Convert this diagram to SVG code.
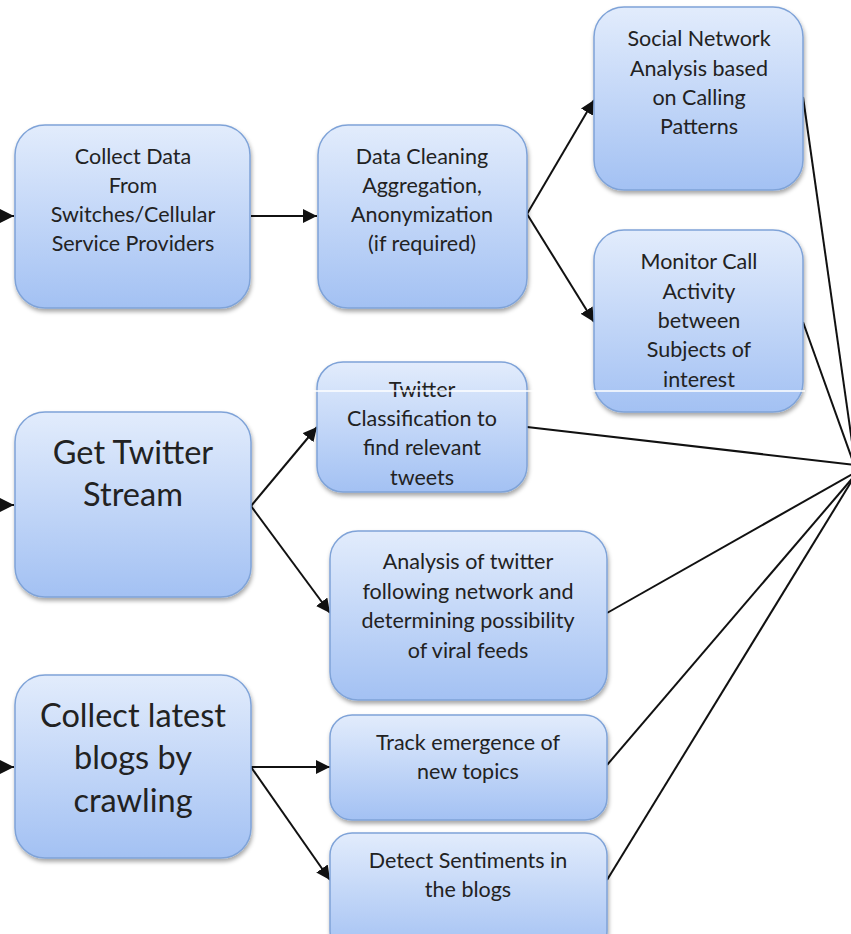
<svg xmlns="http://www.w3.org/2000/svg" width="851" height="934" viewBox="0 0 851 934">
<style>
.box{fill:url(#g);stroke:#7fa3d8;stroke-width:1.5;filter:url(#sh)}
.t{font-family:Lato,"Open Sans","Liberation Sans",sans-serif;font-size:21.5px;fill:#222;text-anchor:middle}
.tl{font-family:Lato,"Open Sans","Liberation Sans",sans-serif;font-size:32.5px;fill:#222;text-anchor:middle}
.c{stroke:#111;stroke-width:2;fill:none}
.ca{stroke:#111;stroke-width:2;fill:none;marker-end:url(#ah)}
</style>
<defs>
<linearGradient id="g" x1="0" y1="0" x2="0" y2="1">
<stop offset="0" stop-color="#e2ecfc"/>
<stop offset="1" stop-color="#a3c1f3"/>
</linearGradient>
<filter id="sh" x="-10%" y="-10%" width="125%" height="130%">
<feDropShadow dx="1" dy="3" stdDeviation="2" flood-color="#000" flood-opacity="0.35"/>
</filter>
<marker id="ah" markerUnits="userSpaceOnUse" markerWidth="16" markerHeight="14" refX="14" refY="7" orient="auto">
<path d="M0,0 L14,7 L0,14 Z" fill="#111"/>
</marker>
</defs>
<rect width="851" height="934" fill="#fff"/>
<g id="connectors">
<line class="ca" x1="-20" y1="216" x2="14" y2="216"/>
<line class="ca" x1="-20" y1="505" x2="14" y2="505"/>
<line class="ca" x1="-20" y1="767" x2="14" y2="767"/>
<line class="ca" x1="251" y1="216" x2="317" y2="216"/>
<polyline class="ca" points="527,214 594,100"/>
<polyline class="ca" points="527,214 594,322"/>
<line class="ca" x1="251" y1="506" x2="317" y2="427"/>
<line class="ca" x1="251" y1="506" x2="330" y2="613"/>
<line class="ca" x1="251" y1="767" x2="330" y2="767"/>
<line class="ca" x1="251" y1="767" x2="330" y2="880"/>
<line class="c" x1="803" y1="97" x2="856" y2="470"/>
<line class="c" x1="803" y1="322" x2="856" y2="470"/>
<line class="c" x1="527" y1="427" x2="856" y2="465"/>
<line class="c" x1="607" y1="613" x2="856" y2="472"/>
<line class="c" x1="607" y1="765" x2="856" y2="474"/>
<line class="c" x1="607" y1="880" x2="856" y2="474"/>
</g>
<g id="n1"><rect class="box" x="15" y="125" width="235" height="183" rx="30"/>
<text class="t" x="133" y="164">Collect Data</text><text class="t" x="133" y="193">From</text><text class="t" x="133" y="222">Switches/Cellular</text><text class="t" x="133" y="251">Service Providers</text></g>
<g id="n2"><rect class="box" x="318" y="125" width="209" height="183" rx="30"/>
<text class="t" x="422" y="164">Data Cleaning</text><text class="t" x="422" y="193">Aggregation,</text><text class="t" x="422" y="222">Anonymization</text><text class="t" x="422" y="251">(if required)</text></g>
<g id="n3"><rect class="box" x="594" y="7" width="209" height="183" rx="30"/>
<text class="t" x="699" y="46">Social Network</text><text class="t" x="699" y="76">Analysis based</text><text class="t" x="699" y="105">on Calling</text><text class="t" x="699" y="134">Patterns</text></g>
<g id="n4"><rect class="box" x="594" y="230" width="209" height="182" rx="30"/>
<text class="t" x="699" y="269">Monitor Call</text><text class="t" x="699" y="299">Activity</text><text class="t" x="699" y="328">between</text><text class="t" x="699" y="357">Subjects of</text><text class="t" x="699" y="387">interest</text></g>
<g id="n5"><rect class="box" x="317" y="362" width="210" height="130" rx="26"/>
<text class="t" x="422" y="397">Twitter</text><text class="t" x="422" y="426">Classification to</text><text class="t" x="422" y="455">find relevant</text><text class="t" x="422" y="485">tweets</text></g>
<g id="n6"><rect class="box" x="15" y="412" width="236" height="185" rx="30"/>
<text class="tl" x="133" y="464">Get Twitter</text><text class="tl" x="133" y="506">Stream</text></g>
<g id="n7"><rect class="box" x="330" y="531" width="277" height="169" rx="28"/>
<text class="t" x="468" y="569">Analysis of twitter</text><text class="t" x="468" y="599">following network and</text><text class="t" x="468" y="628">determining possibility</text><text class="t" x="468" y="658">of viral feeds</text></g>
<g id="n8"><rect class="box" x="15" y="675" width="236" height="183" rx="30"/>
<text class="tl" x="133" y="727">Collect latest</text><text class="tl" x="133" y="769">blogs by</text><text class="tl" x="133" y="812">crawling</text></g>
<g id="n9"><rect class="box" x="330" y="715" width="277" height="105" rx="22"/>
<text class="t" x="468" y="750">Track emergence of</text><text class="t" x="468" y="779">new topics</text></g>
<g id="n10"><rect class="box" x="330" y="833" width="277" height="120" rx="22"/>
<text class="t" x="468" y="868">Detect Sentiments in</text><text class="t" x="468" y="897">the blogs</text></g>
<line x1="313" y1="391" x2="805" y2="391" stroke="#fff" stroke-width="1.5"/>
</svg>
